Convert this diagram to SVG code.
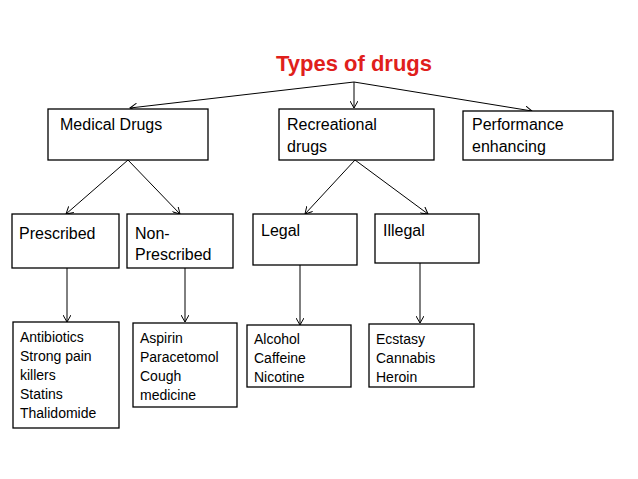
<svg xmlns="http://www.w3.org/2000/svg" width="638" height="479" viewBox="0 0 638 479">
<defs>
<marker id="a" markerWidth="8" markerHeight="8" refX="7" refY="4" orient="auto" markerUnits="userSpaceOnUse"><path d="M0,0 L7,4 L0,8" fill="none" stroke="#000" stroke-width="1"/></marker>
<style>
.b{fill:#fff;stroke:#000;stroke-width:1.3}
.t{font-family:"Liberation Sans",Arial,sans-serif;font-size:16px;fill:#000}
.s{font-family:"Liberation Sans",Arial,sans-serif;font-size:14px;fill:#000}
.c line{stroke:#000;stroke-width:1;marker-end:url(#a)}
</style>
</defs>
<rect width="638" height="479" fill="#fff"/>
<text x="354" y="71" text-anchor="middle" font-family="Liberation Sans,Arial,sans-serif" font-size="22" font-weight="bold" fill="#e0201b">Types of drugs</text>
<g class="c">
<line x1="354" y1="82" x2="130" y2="108"/>
<line x1="354" y1="82" x2="354" y2="108"/>
<line x1="354" y1="82" x2="532" y2="111"/>
<line x1="128" y1="160" x2="66" y2="214"/>
<line x1="128" y1="160" x2="180" y2="214"/>
<line x1="355" y1="160" x2="305" y2="214"/>
<line x1="355" y1="160" x2="428" y2="214"/>
<line x1="67" y1="268" x2="67" y2="322"/>
<line x1="185" y1="268" x2="185" y2="322"/>
<line x1="300" y1="265" x2="300" y2="325"/>
<line x1="420" y1="263" x2="420" y2="323"/>
</g>
<g id="medical"><rect class="b" x="48" y="109" width="160" height="51"/><text class="t" x="60" y="130">Medical Drugs</text></g>
<g id="recreational"><rect class="b" x="279" y="109" width="155" height="51"/><text class="t" x="287" y="130">Recreational</text><text class="t" x="287" y="152">drugs</text></g>
<g id="performance"><rect class="b" x="463" y="111" width="150" height="49"/><text class="t" x="472" y="130">Performance</text><text class="t" x="472" y="152">enhancing</text></g>
<g id="prescribed"><rect class="b" x="12" y="214" width="107" height="54"/><text class="t" x="19" y="239">Prescribed</text></g>
<g id="nonprescribed"><rect class="b" x="127" y="214" width="106" height="54"/><text class="t" x="135" y="239">Non-</text><text class="t" x="135" y="260">Prescribed</text></g>
<g id="legal"><rect class="b" x="253" y="214" width="104" height="51"/><text class="t" x="261" y="236">Legal</text></g>
<g id="illegal"><rect class="b" x="375" y="214" width="104" height="49"/><text class="t" x="383" y="236">Illegal</text></g>
<g id="prescribedlist"><rect class="b" x="13" y="322" width="106" height="106"/>
<text class="s" x="20" y="342">Antibiotics</text><text class="s" x="20" y="361">Strong pain</text><text class="s" x="20" y="380">killers</text><text class="s" x="20" y="399">Statins</text><text class="s" x="20" y="418">Thalidomide</text></g>
<g id="nonprescribedlist"><rect class="b" x="133" y="323" width="104" height="84"/>
<text class="s" x="140" y="343">Aspirin</text><text class="s" x="140" y="362">Paracetomol</text><text class="s" x="140" y="381">Cough</text><text class="s" x="140" y="400">medicine</text></g>
<g id="legallist"><rect class="b" x="247" y="325" width="104" height="62"/>
<text class="s" x="254" y="344">Alcohol</text><text class="s" x="254" y="363">Caffeine</text><text class="s" x="254" y="382">Nicotine</text></g>
<g id="illegallist"><rect class="b" x="369" y="324" width="105" height="63"/>
<text class="s" x="376" y="344">Ecstasy</text><text class="s" x="376" y="363">Cannabis</text><text class="s" x="376" y="382">Heroin</text></g>
</svg>
